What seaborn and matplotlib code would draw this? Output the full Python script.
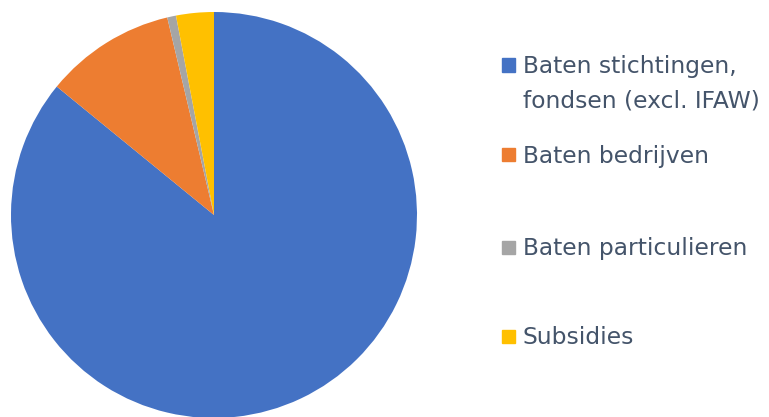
import matplotlib
matplotlib.use("Agg")
import matplotlib.pyplot as plt
import seaborn as sns
from matplotlib.patches import Rectangle

# aandelen in de baten (%)
categorieen = ['Baten stichtingen,\nfondsen (excl. IFAW)', 'Baten bedrijven',
               'Baten particulieren', 'Subsidies']
aandelen = [85.9, 10.4, 0.7, 3.0]
kleuren = ['#4472C4', '#ED7D31', '#A5A5A5', '#FFC000']

sns.set_theme(style='white')
plt.rcParams['font.family'] = ['DejaVu Sans']

W, H = 769, 417
fig = plt.figure(figsize=(W / 100, H / 100), dpi=100)

# pie: centrum (214, 215) px, straal 203 px
cx, cy, r = 214, 215, 203
ax = fig.add_axes([(cx - r) / W, 1 - (cy + r) / H, 2 * r / W, 2 * r / H])
ax.pie(aandelen, colors=kleuren, startangle=90, counterclock=False,
       wedgeprops={'linewidth': 0})
ax.set_xlim(-1, 1)
ax.set_ylim(-1, 1)
ax.set_aspect('auto')
ax.axis('off')

# legenda handmatig, zoals in Excel (y = midden van het blokje, px)
legenda_y = [65, 154, 247, 336]
for label, kleur, y in zip(categorieen, kleuren, legenda_y):
    fig.patches.append(Rectangle((502 / W, 1 - (y + 6.5) / H), 13 / W, 13 / H,
                                 transform=fig.transFigure, color=kleur))
    for i, regel in enumerate(label.split('\n')):
        fig.text(523 / W, 1 - (y + 8.5 + 34 * i) / H, regel, fontsize=16.8,
                 color='#44546A', va='baseline', ha='left')

fig.savefig('out.png', dpi=100)
